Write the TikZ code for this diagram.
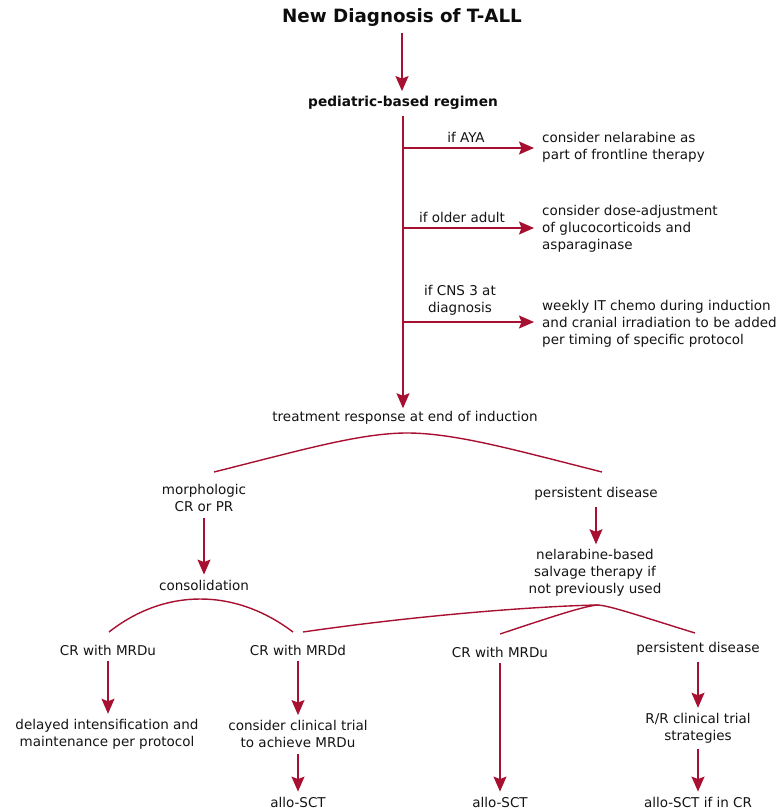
\documentclass[tikz,border=0pt]{standalone}
\usepackage{fontspec}
\setmainfont{DejaVu Sans}
\usetikzlibrary{arrows.meta}
\definecolor{cr}{RGB}{168,16,50}
\begin{document}
\begin{tikzpicture}[x=1pt,y=-1pt,
  txt/.style={inner sep=0pt, font=\fontsize{13.5}{17}\selectfont, align=center, text=black!92},
  ltxt/.style={txt, align=left, anchor=west},
  ln/.style={draw=cr, line width=1.4pt},
  arr/.style={ln, -{Stealth[length=15pt,width=13pt,inset=2.5pt]}, shorten <=6pt, shorten >=5pt}]
\useasboundingbox[fill=white] (0,0) rectangle (779,809);

\node[inner sep=0pt, font=\fontsize{18.3}{22}\selectfont\bfseries, text=black!95] (title) at (402,18) {New Diagnosis of T-ALL};
\node[inner sep=0pt, font=\fontsize{13.7}{17}\selectfont\bfseries, text=black!95] (pbr) at (403,103) {pediatric-based regimen};

\node[ltxt] (t1) at (542,147) {consider nelarabine as\\part of frontline therapy};
\node[ltxt] (t2) at (542,229) {consider dose-adjustment\\of glucocorticoids and\\asparaginase};
\node[ltxt] (t3) at (542,324) {weekly IT chemo during induction\\and cranial irradiation to be added\\per timing of specific protocol};
\node[txt] (l1) at (466,137) {if AYA};
\node[txt] (l2) at (462,217) {if older adult};
\node[txt] (l3) at (460,300) {if CNS 3 at\\diagnosis};

\node[txt] (tr) at (405,418) {treatment response at end of induction};
\node[txt] (morph) at (204,498) {morphologic\\CR or PR};
\node[txt] (pers) at (596,494) {persistent disease};
\node[txt] (cons) at (204,585) {consolidation};
\node[txt] (nel) at (595,573) {nelarabine-based\\salvage therapy if\\not previously used};

\node[txt] (mu1) at (108,650) {CR with MRDu};
\node[txt] (md) at (298,650) {CR with MRDd};
\node[txt] (mu2) at (500,652) {CR with MRDu};
\node[txt] (pd2) at (698,649) {persistent disease};
\node[txt] (del) at (107,734) {delayed intensification and\\maintenance per protocol};
\node[txt] (cct) at (298,734) {consider clinical trial\\to achieve MRDu};
\node[txt] (allo1) at (298,802) {allo-SCT};
\node[txt] (allo2) at (500,802) {allo-SCT};
\node[txt] (rr) at (698,728) {R/R clinical trial\\strategies};
\node[txt] (allo3) at (698,802) {allo-SCT if in CR};

% top arrows
\draw[arr] (title.south) -- (title.south |- pbr.north);
\draw[arr, shorten >=3pt] (pbr.south) -- (pbr.south |- tr.north);
\coordinate (b1) at (404,148);
\coordinate (b2) at (404,228);
\coordinate (b3) at (404,322);
\draw[arr, shorten <=0pt, shorten >=8pt] (b1) -- (b1 -| t1.west);
\draw[arr, shorten <=0pt, shorten >=8pt] (b2) -- (b2 -| t2.west);
\draw[arr, shorten <=0pt, shorten >=8pt] (b3) -- (b3 -| t3.west);

% induction arc
\coordinate (j1) at (407,433);
\coordinate (a1) at (214,472);
\coordinate (a2) at (602,472);
\draw[ln] (j1) .. controls (360,433) and (300,450.5) .. (a1);
\draw[ln] (j1) .. controls (455,433) and (515,450) .. (a2);

\draw[arr] (morph.south) -- (morph.south |- cons.north);
\draw[arr] (pers.south) -- (pers.south |- nel.north);

% consolidation arc
\coordinate (j2) at (200.25,599);
\coordinate (c1) at (109,632);
\coordinate (c2) at (293,632);
\draw[ln] (j2) .. controls (168.5,599) and (137,610) .. (c1);
\draw[ln] (j2) .. controls (232,599) and (264,610) .. (c2);

% salvage arcs
\coordinate (j3) at (598,605);
\coordinate (s1) at (303,632);
\coordinate (s2) at (500,634);
\coordinate (s3) at (695,633);
\draw[ln] (j3) .. controls (540,606) and (420,615) .. (s1);
\draw[ln] (j3) .. controls (585,606) and (560,614) .. (s2);
\draw[ln] (j3) .. controls (611,606) and (640,616) .. (s3);

% bottom arrows
\draw[arr] (mu1.south) -- (mu1.south |- del.north);
\draw[arr] (md.south) -- (md.south |- cct.north);
\draw[arr] (cct.south) -- (cct.south |- allo1.north);
\draw[arr] (mu2.south) -- (mu2.south |- allo2.north);
\draw[arr] (pd2.south) -- (pd2.south |- rr.north);
\draw[arr] (rr.south) -- (rr.south |- allo3.north);
\end{tikzpicture}
\end{document}
